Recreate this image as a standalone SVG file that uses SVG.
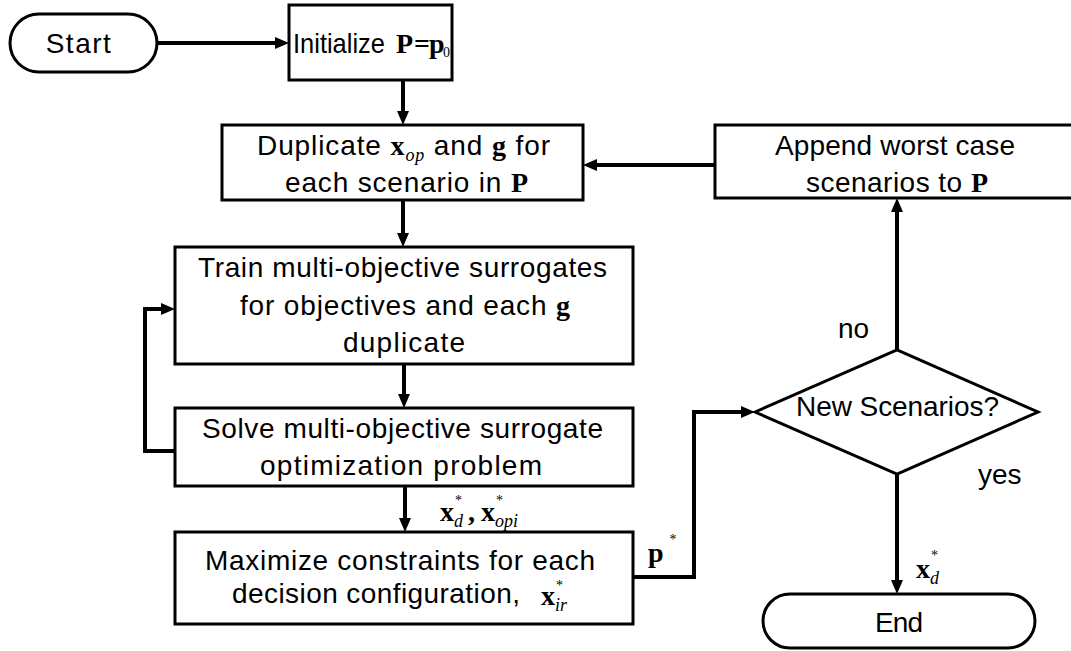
<svg xmlns="http://www.w3.org/2000/svg" width="1071" height="651" viewBox="0 0 1071 651">
  <style>
    .box { fill: #fff; stroke: #000; stroke-width: 3; }
    .conn { fill: none; stroke: #000; stroke-width: 4; }
    text { fill: #000; }
    .t { font-family: "Liberation Sans", Arial, sans-serif; font-size: 28px; }
    .m { font-family: "Liberation Serif", "Times New Roman", serif; font-weight: bold; font-size: 28px; }
    .s { font-family: "Liberation Serif", "Times New Roman", serif; font-style: italic; font-size: 18px; }
    .st { font-family: "Liberation Serif", "Times New Roman", serif; font-size: 14px; }
  </style>
  <defs>
    <marker id="arr" markerUnits="userSpaceOnUse" markerWidth="14" markerHeight="12" refX="6" refY="6" orient="auto">
      <path d="M0,0 L14,6 L0,12 z" fill="#000"/>
    </marker>
  </defs>
  <rect width="1071" height="651" fill="#fff"/>

  <g id="connectors">
    <path class="conn" d="M157,43 H281" marker-end="url(#arr)"/>
    <path class="conn" d="M403,80 V117" marker-end="url(#arr)"/>
    <path class="conn" d="M715,165 H591" marker-end="url(#arr)"/>
    <path class="conn" d="M403,200 V239" marker-end="url(#arr)"/>
    <path class="conn" d="M404,364 V400" marker-end="url(#arr)"/>
    <path class="conn" d="M175,451 H145 V309 H167" marker-end="url(#arr)"/>
    <path class="conn" d="M405,486 V524" marker-end="url(#arr)"/>
    <path class="conn" d="M633,577 H694 V412 H747" marker-end="url(#arr)"/>
    <path class="conn" d="M897,350 V206" marker-end="url(#arr)"/>
    <path class="conn" d="M897,474 V586" marker-end="url(#arr)"/>
  </g>

  <g id="start">
    <rect class="box" x="10" y="14" width="147" height="58" rx="29"/>
    <text class="t" x="79" y="53" text-anchor="middle" letter-spacing="1.5">Start</text>
  </g>

  <g id="initialize">
    <rect class="box" x="289" y="5" width="163" height="75"/>
    <text class="t" x="293" y="53" font-size="25" textLength="92" lengthAdjust="spacingAndGlyphs">Initialize</text>
    <text y="53"><tspan class="m" x="396" font-size="24">P</tspan><tspan class="m" x="414" font-size="22" font-weight="normal">=</tspan><tspan class="m" x="429" font-size="24">p</tspan><tspan class="st" x="443" y="57" font-size="11">0</tspan></text>
  </g>

  <g id="duplicate">
    <rect class="box" x="222" y="125" width="361" height="75"/>
    <text class="t" x="257" y="155" textLength="293" lengthAdjust="spacing">Duplicate <tspan class="m">x</tspan><tspan class="s" dy="6">op</tspan><tspan dy="-6"> and </tspan><tspan class="m">g</tspan> for</text>
    <text class="t" x="285" y="192" textLength="243" lengthAdjust="spacing">each scenario in  <tspan class="m">P</tspan></text>
  </g>

  <g id="append">
    <rect class="box" x="715" y="125" width="370" height="73"/>
    <text class="t" x="775" y="155" textLength="240" lengthAdjust="spacing">Append worst case</text>
    <text class="t" x="806" y="192" textLength="182" lengthAdjust="spacing">scenarios to <tspan class="m">P</tspan></text>
  </g>

  <g id="train">
    <rect class="box" x="175" y="247" width="458" height="117"/>
    <text class="t" x="198" y="277" textLength="409" lengthAdjust="spacing">Train multi-objective surrogates</text>
    <text class="t" x="240" y="315" textLength="330" lengthAdjust="spacing">for objectives and each  <tspan class="m">g</tspan></text>
    <text class="t" x="343" y="352" textLength="122" lengthAdjust="spacing">duplicate</text>
  </g>

  <g id="solve">
    <rect class="box" x="175" y="408" width="458" height="78"/>
    <text class="t" x="202" y="438" textLength="401" lengthAdjust="spacing">Solve multi-objective surrogate</text>
    <text class="t" x="260" y="475" textLength="282" lengthAdjust="spacing">optimization problem</text>
  </g>

  <g id="maximize">
    <rect class="box" x="175" y="532" width="458" height="92"/>
    <text class="t" x="205" y="570" textLength="390" lengthAdjust="spacing">Maximize constraints for each</text>
    <text class="t" x="232" y="603" textLength="288" lengthAdjust="spacing">decision configuration,</text>
    <text x="541" y="605"><tspan class="m">x</tspan><tspan class="st" dx="1" dy="-15">*</tspan><tspan class="s" dx="-8" dy="21">ir</tspan></text>
  </g>

  <g id="decision">
    <path class="box" d="M755,412 L897,350 L1038,412 L897,474 Z"/>
    <text class="t" x="796" y="416" textLength="203" lengthAdjust="spacing">New Scenarios?</text>
  </g>

  <g id="end">
    <rect class="box" x="763" y="594" width="272" height="54" rx="27"/>
    <text class="t" x="875" y="632" textLength="48" lengthAdjust="spacing">End</text>
  </g>

  <g id="labels">
    <text class="t" x="838" y="338">no</text>
    <text class="t" x="978" y="484">yes</text>
    <text x="440" y="521"><tspan class="m">x</tspan><tspan class="st" dx="1" dy="-16">*</tspan><tspan class="s" dx="-8" dy="22">d</tspan><tspan class="m" font-weight="normal" dx="5" dy="-6">,</tspan><tspan class="m" dx="6">x</tspan><tspan class="st" dx="1" dy="-16">*</tspan><tspan class="s" dx="-8" dy="22">opi</tspan></text>
    <text x="648" y="562"><tspan class="m">p</tspan><tspan class="st" dx="6" dy="-18">*</tspan></text>
    <text x="916" y="578"><tspan class="m">x</tspan><tspan class="st" dx="1" dy="-18">*</tspan><tspan class="s" dx="-8" dy="24">d</tspan></text>
  </g>
</svg>
